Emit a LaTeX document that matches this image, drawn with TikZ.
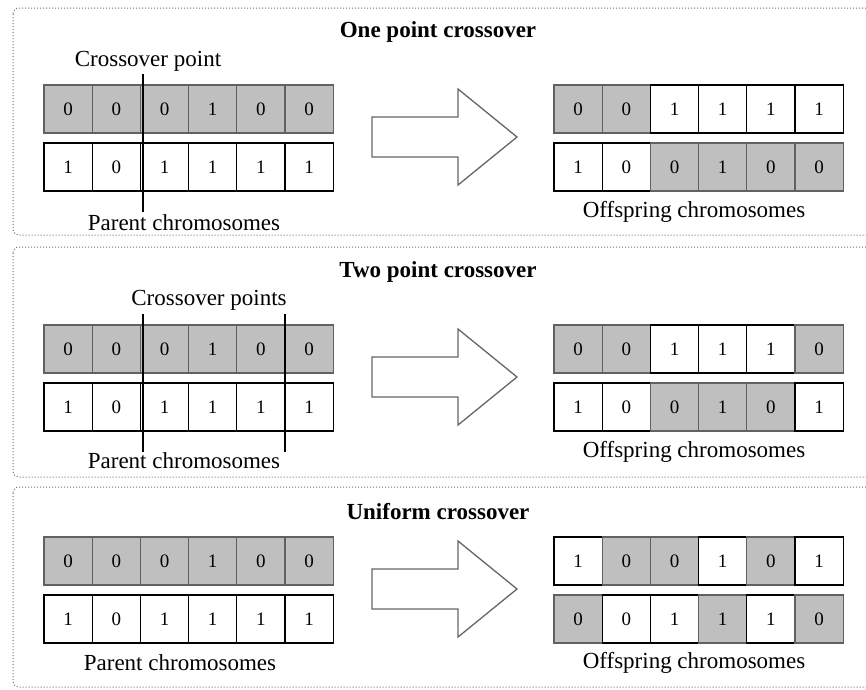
\documentclass[tikz,border=0pt]{standalone}
\usepackage{fontspec}
\setmainfont{Liberation Serif}
\begin{document}
\begin{tikzpicture}[x=1pt,y=-1pt,
  panel/.style={draw=black!55, dash pattern=on 1pt off 2pt, line width=1pt, rounded corners=6pt},
  cellg/.style={draw=black!62, fill=black!25, line width=1.3pt, minimum width=48.2pt, minimum height=48pt, inner sep=0pt, font=\fontsize{19}{22}\selectfont},
  cellw/.style={draw=black, fill=white, line width=1.3pt, minimum width=48.2pt, minimum height=48pt, inner sep=0pt, font=\fontsize{19}{22}\selectfont},
  lab/.style={inner sep=0pt, font=\fontsize{23}{26}\selectfont},
  ttl/.style={inner sep=0pt, font=\fontsize{23}{26}\selectfont\bfseries},
  xline/.style={draw=black, line width=1.3pt},
  bigarr/.style={draw=black!60, fill=white, line width=1.3pt}]
\newcommand\chromrow[4]{\foreach \s/\v [count=\i] in {#4} {\node[cell\s] (#1\i) at ({#2+24.1+(\i-1)*48.2},#3) {\v};}}
\newcommand\bigarrow[1]{\draw[bigarr] (372,#1-20) -- (458,#1-20) -- (458,#1-48) -- (517,#1) -- (458,#1+48) -- (458,#1+20) -- (372,#1+20) -- cycle;}
\clip (0,0) rectangle (866,689);
\fill[white] (0,0) rectangle (866,689);
% panels
\draw[panel] (13,8) rectangle (890,235);
\draw[panel] (13,247) rectangle (890,477);
\draw[panel] (13,487) rectangle (890,687);
% ---------- One point crossover
\node[ttl] (t1) at (438,32) {One point crossover};
\chromrow{pa}{44}{109}{g/0,g/0,g/0,g/1,g/0,g/0}
\chromrow{pb}{44}{167}{w/1,w/0,w/1,w/1,w/1,w/1}
\chromrow{oa}{554}{109}{g/0,g/0,w/1,w/1,w/1,w/1}
\chromrow{ob}{554}{167}{w/1,w/0,g/0,g/1,g/0,g/0}
\bigarrow{137}
\coordinate (c1t) at (143,74);
\coordinate (c1b) at (143,212);
\draw[xline] (c1t) -- (c1b);
\node[lab] (cp1) at (148,61) {Crossover point};
\node[lab] (pc1) at (184,223) {Parent chromosomes};
\node[lab] (oc1) at (694,212) {Offspring chromosomes};
% ---------- Two point crossover
\node[ttl] (t2) at (438,272) {Two point crossover};
\chromrow{qa}{44}{349}{g/0,g/0,g/0,g/1,g/0,g/0}
\chromrow{qb}{44}{407}{w/1,w/0,w/1,w/1,w/1,w/1}
\chromrow{ra}{554}{349}{g/0,g/0,w/1,w/1,w/1,g/0}
\chromrow{rb}{554}{407}{w/1,w/0,g/0,g/1,g/0,w/1}
\bigarrow{377}
\coordinate (c2t) at (143,314);
\coordinate (c2b) at (143,452);
\coordinate (c3t) at (285,314);
\coordinate (c3b) at (285,452);
\draw[xline] (c2t) -- (c2b);
\draw[xline] (c3t) -- (c3b);
\node[lab] (cp2) at (209,300) {Crossover points};
\node[lab] (pc2) at (184,461) {Parent chromosomes};
\node[lab] (oc2) at (694,452) {Offspring chromosomes};
% ---------- Uniform crossover
\node[ttl] (t3) at (438,512) {Uniform crossover};
\chromrow{sa}{44}{561}{g/0,g/0,g/0,g/1,g/0,g/0}
\chromrow{sb}{44}{619}{w/1,w/0,w/1,w/1,w/1,w/1}
\chromrow{ua}{554}{561}{w/1,g/0,g/0,w/1,g/0,w/1}
\chromrow{ub}{554}{619}{g/0,w/0,w/1,g/1,w/1,g/0}
\bigarrow{589}
\node[lab] (pc3) at (180,663) {Parent chromosomes};
\node[lab] (oc3) at (694,663) {Offspring chromosomes};
\end{tikzpicture}
\end{document}
